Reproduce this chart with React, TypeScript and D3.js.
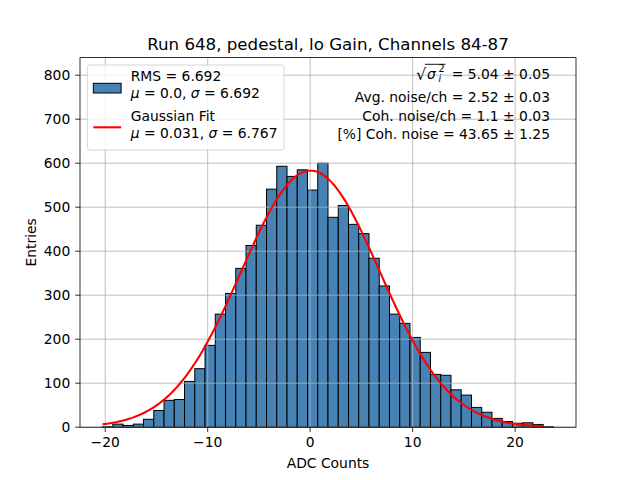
import React from "react";
import * as d3 from "d3";

const WIDTH = 640;
const HEIGHT = 480;
const M = { left: 80, right: 576, top: 57.6, bottom: 427.2 };

// histogram: 44 bins of width 1, first edge at -20.26
const binStart = -20.26;
const binWidth = 1;
const counts = [
  1, 7, 4, 7, 18, 38, 61, 63, 104, 133, 186, 257, 304, 361, 413, 459, 541, 593, 570, 585, 539, 600,
  477, 504, 461, 440, 384, 321, 257, 236, 204, 170, 120, 118, 85, 73, 45, 34, 20, 13, 9, 10, 6, 1,
];

// fit result
const fitMu = 0.031;
const fitSigma = 6.767;
const fitAmp = 583;

const xTicks = [-20, -10, 0, 10, 20];
const yTicks = [0, 100, 200, 300, 400, 500, 600, 700, 800];

const title = "Run 648, pedestal, lo Gain, Channels 84-87";
const statLines = [
  "Avg. noise/ch = 2.52 \u00b1 0.03",
  "Coh. noise/ch = 1.1 \u00b1 0.03",
  "[%] Coh. noise = 43.65 \u00b1 1.25",
];

const FONT = "DejaVu Sans";
const FS = 13.89;
const TICK = 4.86;

export default function App() {
  const edges = counts.map((_, i) => binStart + i * binWidth);
  const xMin = binStart;
  const xMax = binStart + counts.length * binWidth;
  const pad = (xMax - xMin) * 0.05;
  const x = d3.scaleLinear().domain([xMin - pad, xMax + pad]).range([M.left, M.right]);
  const yMax = d3.max(counts)! * 1.4;
  const y = d3.scaleLinear().domain([0, yMax]).range([M.bottom, M.top]);

  const fitX = d3.range(0, 301).map((k) => edges[0] + (k / 300) * (edges[edges.length - 1] - edges[0]));
  const gauss = (v: number) => fitAmp * Math.exp(-((v - fitMu) ** 2) / (2 * fitSigma * fitSigma));
  const line = d3.line<number>().x((d) => x(d)).y((d) => y(gauss(d)));

  const fmt = d3.format("d");

  return (
    <div style={{ position: "absolute", left: 0, top: 0 }}>
      <svg width={WIDTH} height={HEIGHT} style={{ fontFamily: FONT, display: "block" }}>
        <rect width={WIDTH} height={HEIGHT} fill="white" />
        {/* bars */}
        <g>
          {counts.map((c, i) => (
            <rect
              key={i}
              x={x(edges[i])}
              y={y(c)}
              width={x(edges[i] + binWidth) - x(edges[i])}
              height={y(0) - y(c)}
              fill="steelblue"
              stroke="black"
              strokeWidth={1}
            />
          ))}
        </g>
        {/* grid */}
        <g stroke="#b0b0b0" strokeWidth={0.8}>
          {xTicks.map((t) => (
            <line key={t} x1={x(t)} x2={x(t)} y1={M.top} y2={M.bottom} />
          ))}
          {yTicks.map((t) => (
            <line key={t} x1={M.left} x2={M.right} y1={y(t)} y2={y(t)} />
          ))}
        </g>
        {/* fit */}
        <path d={line(fitX) || ""} fill="none" stroke="red" strokeWidth={2.08} />
        {/* spines */}
        <rect x={M.left} y={M.top} width={M.right - M.left} height={M.bottom - M.top} fill="none" stroke="black" strokeWidth={0.8} />
        {/* x ticks */}
        <g fontSize={FS} textAnchor="middle">
          {xTicks.map((t) => (
            <g key={t}>
              <line x1={x(t)} x2={x(t)} y1={M.bottom} y2={M.bottom + TICK} stroke="black" strokeWidth={0.8} />
              <text x={x(t)} y={M.bottom + 2 * TICK + 10.5}>{fmt(t)}</text>
            </g>
          ))}
        </g>
        <g fontSize={FS} textAnchor="end">
          {yTicks.map((t) => (
            <g key={t}>
              <line x1={M.left - TICK} x2={M.left} y1={y(t)} y2={y(t)} stroke="black" strokeWidth={0.8} />
              <text x={M.left - 2 * TICK} y={y(t)} dy="0.36em">{fmt(t)}</text>
            </g>
          ))}
        </g>
        <text x={(M.left + M.right) / 2} y={467.5} fontSize={FS} textAnchor="middle">ADC Counts</text>
        <text transform={`translate(35.5,${(M.top + M.bottom) / 2}) rotate(-90)`} fontSize={FS} textAnchor="middle">Entries</text>
        <text x={(M.left + M.right) / 2} y={49.5} fontSize={16.67} textAnchor="middle">{title}</text>

        {/* legend */}
        <g fontSize={FS}>
          <rect x={87.3} y={65} width={196.7} height={85} rx={2.8} fill="white" fillOpacity={0.8} stroke="#cccccc" strokeWidth={0.8} />
          <rect x={93.3} y={83.3} width={27.8} height={9.7} fill="steelblue" stroke="black" strokeWidth={1} />
          <text x={130.7} y={81}>RMS = 6.692</text>
          <text x={130.7} y={98.3}>
            <tspan fontStyle="italic">{"\u03bc"}</tspan>{" = 0.0, "}
            <tspan fontStyle="italic">{"\u03c3"}</tspan>{" = 6.692"}
          </text>
          <line x1={93.3} x2={121.1} y1={127.3} y2={127.3} stroke="red" strokeWidth={2.08} />
          <text x={130.7} y={121}>Gaussian Fit</text>
          <text x={130.7} y={138.3}>
            <tspan fontStyle="italic">{"\u03bc"}</tspan>{" = 0.031, "}
            <tspan fontStyle="italic">{"\u03c3"}</tspan>{" = 6.767"}
          </text>
        </g>

        {/* stats text */}
        <g fontSize={FS}>
          <text x={416} y={79.5} fontSize={16}>{"\u221a"}</text>
          <line x1={425} x2={445.5} y1={64.3} y2={64.3} stroke="black" strokeWidth={0.9} />
          <text x={427} y={78.5} fontStyle="italic">{"\u03c3"}</text>
          <text x={438.5} y={71.5} fontSize={9.7}>2</text>
          <text x={438.5} y={81.8} fontSize={9.7} fontStyle="italic">i</text>
          <text x={550} y={78.5} textAnchor="end">{"= 5.04 \u00b1 0.05"}</text>
          {statLines.map((s, i) => (
            <text key={i} x={550} y={[101.5, 121, 138.5][i]} textAnchor="end">{s}</text>
          ))}
        </g>
      </svg>
    </div>
  );
}
